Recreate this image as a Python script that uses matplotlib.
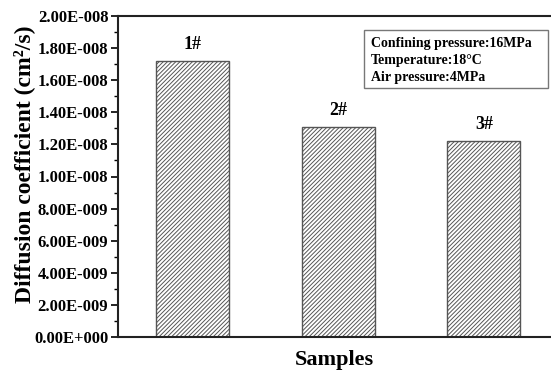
import matplotlib.pyplot as plt
from matplotlib.ticker import MultipleLocator, FuncFormatter
from matplotlib.patches import Rectangle
import matplotlib as mpl

samples = ['1#', '2#', '3#']
positions = [1, 2, 3]
diffusion = [1.72e-8, 1.31e-8, 1.22e-8]
yticks = [i * 2e-9 for i in range(11)]

plt.rcParams['font.family'] = ['Liberation Serif', 'DejaVu Serif']
plt.rcParams['font.weight'] = 'bold'
mpl.rcParams['hatch.color'] = '#9a9a9a'
mpl.rcParams['hatch.linewidth'] = 0.7


def sci_fmt(v, pos):
    if v == 0:
        return '0.00E+000'
    s = '%.2E' % v
    mant, exp = s.split('E')
    e = int(exp)
    sign = '-' if e < 0 else '+'
    return '%sE%s%03d' % (mant, sign, abs(e))


fig = plt.figure(figsize=(5.51, 3.70), dpi=100)
ax = fig.add_axes([118 / 551, 33 / 370, 1 - 118 / 551, 321 / 370])

bars = ax.bar(positions, diffusion, width=0.5, color='white',
              edgecolor='#555555', linewidth=1.0, hatch='////////')

for x, v, lab in zip(positions, diffusion, samples):
    ax.text(x, v + 0.05e-8, lab, ha='center', va='bottom',
            fontsize=13, fontweight='bold')

ax.set_xlim(0.49, 3.46)
ax.set_ylim(0, 2e-8)
ax.set_yticks(yticks)
ax.yaxis.set_major_formatter(FuncFormatter(sci_fmt))
ax.yaxis.set_minor_locator(MultipleLocator(1e-9))
ax.set_xticks([])

ax.spines['right'].set_visible(False)
for sp in ['left', 'top', 'bottom']:
    ax.spines[sp].set_linewidth(1.5)
    ax.spines[sp].set_color('#222222')

ax.tick_params(axis='y', which='major', direction='out', length=5,
               width=1.2, labelsize=12, pad=2)
ax.tick_params(axis='y', which='minor', direction='out', length=3, width=1.0)
for t in ax.get_yticklabels():
    t.set_fontweight('bold')

ax.set_ylabel('Diffusion coefficient (cm²/s)', fontsize=17, fontweight='bold')
ax.yaxis.set_label_coords(-0.192, 0.539)
ax.set_xlabel('Samples', fontsize=16, fontweight='bold', labelpad=9)

# conditions box
ax.add_patch(Rectangle((0.568, 0.776), 0.425, 0.18, transform=ax.transAxes,
                       facecolor='white', edgecolor='#777777', linewidth=1.0,
                       zorder=3))
ax.text(0.584, 0.935,
        'Confining pressure:16MPa\nTemperature:18°C\nAir pressure:4MPa',
        transform=ax.transAxes, ha='left', va='top', fontsize=10,
        fontweight='bold', linespacing=1.4, zorder=4)

fig.savefig('out.png', dpi=100)
